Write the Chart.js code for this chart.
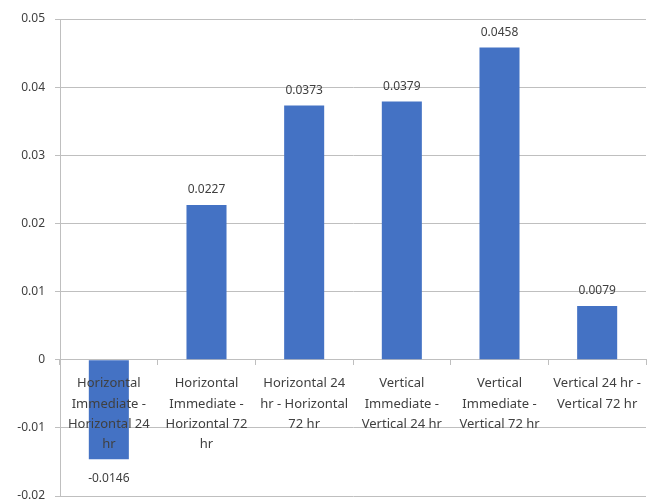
<!DOCTYPE html>
<html>
<head>
<meta charset="utf-8">
<script src="https://cdn.jsdelivr.net/npm/chart.js@4"></script>
<style>
  html, body { margin: 0; padding: 0; background: #fff; }
  #wrap { width: 662px; height: 502px; }
</style>
</head>
<body>
<div id="wrap"><canvas id="myChart"></canvas></div>
<script>
var categories = [
    ["Horizontal", "Immediate -", "Horizontal 24", "hr"],
    ["Horizontal", "Immediate -", "Horizontal 72", "hr"],
    ["Horizontal 24", "hr - Horizontal", "72 hr"],
    ["Vertical", "Immediate -", "Vertical 24 hr"],
    ["Vertical", "Immediate -", "Vertical 72 hr"],
    ["Vertical 24 hr -", "Vertical 72 hr"]
];
var values = [-0.0146, 0.0227, 0.0373, 0.0379, 0.0458, 0.0079];
var yTicks = ["-0.02", "-0.01", "0", "0.01", "0.02", "0.03", "0.04", "0.05"];

var fontFamily = "'Noto Sans', 'Open Sans', sans-serif";
var textColor = '#404040';
var gridColor = '#bfbfbf';

// draws the value above (or below) each bar
var valueLabels = {
    id: 'valueLabels',
    afterDatasetsDraw: function (chart) {
        var c = chart.ctx;
        var meta = chart.getDatasetMeta(0);
        c.save();
        c.font = '12px ' + fontFamily;
        c.fillStyle = textColor;
        c.textAlign = 'center';
        c.textBaseline = 'middle';
        meta.data.forEach(function (bar, i) {
            var v = values[i];
            var y = v >= 0 ? bar.y - 15 : bar.y + 19;
            c.fillText(String(v), bar.x, y);
        });
        c.restore();
    }
};

var ctx = document.getElementById("myChart");
var myChart = new Chart(ctx, {
    type: 'bar',
    data: {
        labels: categories,
        datasets: [{
            data: values,
            backgroundColor: '#4472C4',
            barPercentage: 0.41,
            categoryPercentage: 1.0
        }]
    },
    options: {
        responsive: true,
        maintainAspectRatio: false,
        animation: false,
        layout: { padding: { top: 19, right: 16, bottom: 6, left: 0 } },
        plugins: {
            legend: { display: false },
            tooltip: { enabled: false }
        },
        scales: {
            x: {
                position: { y: 0 },
                offset: true,
                grid: {
                    display: true,
                    drawOnChartArea: false,
                    offset: true,
                    color: gridColor,
                    tickLength: 5
                },
                border: { color: gridColor },
                ticks: {
                    z: 1,
                    color: textColor,
                    font: { family: fontFamily, size: 13, lineHeight: 1.55 },
                    maxRotation: 0,
                    autoSkip: false,
                    padding: 9
                }
            },
            y: {
                min: -0.02,
                max: 0.05,
                afterFit: function (scale) {
                    scale.width = 60;
                    scale.paddingTop = 0;
                    scale.paddingBottom = 0;
                },
                grid: { color: gridColor, tickLength: 5 },
                border: { color: gridColor },
                ticks: {
                    stepSize: 0.01,
                    color: textColor,
                    padding: 10,
                    font: { family: fontFamily, size: 12 },
                    callback: function (value, index) { return yTicks[index]; }
                }
            }
        }
    },
    plugins: [valueLabels]
});
</script>
</body>
</html>
